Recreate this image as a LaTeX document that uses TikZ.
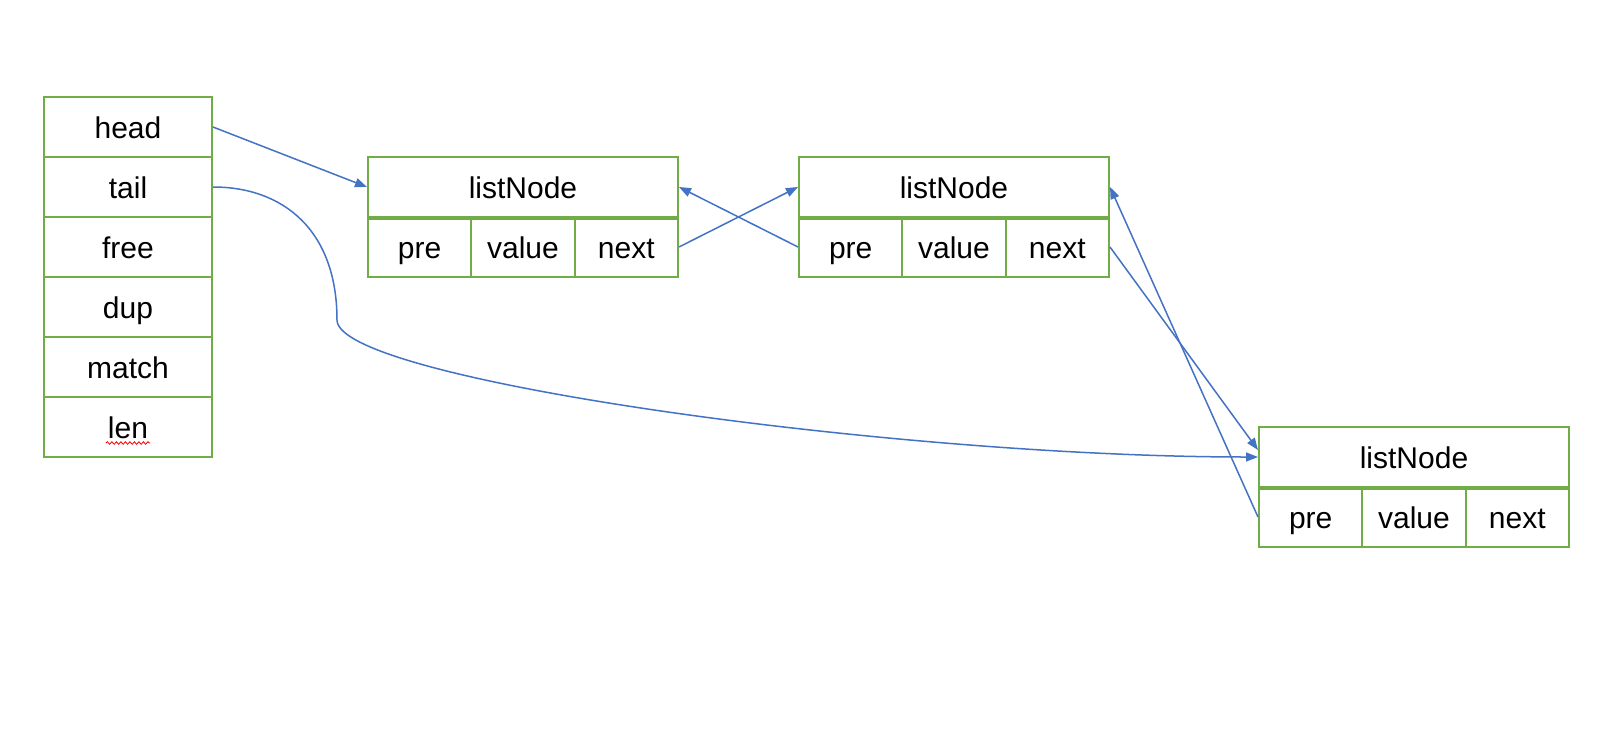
\documentclass[tikz,border=0pt]{standalone}
\usepackage{fontspec}
\setmainfont{Liberation Sans}
\usetikzlibrary{arrows.meta,decorations.pathmorphing}
\definecolor{ogreen}{HTML}{70AD47}
\definecolor{oblue}{HTML}{4472C4}
\begin{document}
\begin{tikzpicture}[x=1pt,y=-1pt,
  cell/.style={draw=ogreen, line width=2pt, rectangle, inner sep=0pt, minimum height=60pt,
    text height=25pt, text depth=2pt, font=\fontsize{30}{36}\selectfont},
  fieldcell/.style={cell, minimum width=168pt},
  titlecell/.style={cell, minimum width=310pt},
  smallcell/.style={cell, minimum width=103.33pt},
  divider/.style={draw=ogreen, line width=3.5pt},
  link/.style={draw=oblue, line width=1.5pt, -{Triangle[length=12pt,width=9pt]}}
]
\useasboundingbox (0,0) rectangle (1606,750);
\fill[white] (0,0) rectangle (1606,750);
% left struct
\node[fieldcell] (head)  at (128,127) {head};
\node[fieldcell] (tail)  at (128,187) {tail};
\node[fieldcell] (free)  at (128,247) {free};
\node[fieldcell] (dup)   at (128,307) {dup};
\node[fieldcell] (match) at (128,367) {match};
\node[fieldcell] (len)   at (128,427) {len};
\draw[red, line width=0.8pt, decorate, decoration={snake, amplitude=1.3pt, segment length=4.5pt}]
  ([xshift=-22pt,yshift=-16pt]len.center) -- ([xshift=22pt,yshift=-16pt]len.center);
% listNode 1
\node[titlecell] (n1t) at (523,187) {listNode};
\node[smallcell] (n1p) at (419.67,247) {pre};
\node[smallcell] (n1v) at (523,247) {value};
\node[smallcell] (n1n) at (626.33,247) {next};
\draw[divider] (n1t.south west) -- (n1t.south east);
% listNode 2
\node[titlecell] (n2t) at (954,187) {listNode};
\node[smallcell] (n2p) at (850.67,247) {pre};
\node[smallcell] (n2v) at (954,247) {value};
\node[smallcell] (n2n) at (1057.33,247) {next};
\draw[divider] (n2t.south west) -- (n2t.south east);
% listNode 3
\node[titlecell] (n3t) at (1414,457) {listNode};
\node[smallcell] (n3p) at (1310.67,517) {pre};
\node[smallcell] (n3v) at (1414,517) {value};
\node[smallcell] (n3n) at (1517.33,517) {next};
\draw[divider] (n3t.south west) -- (n3t.south east);
% connectors
\coordinate (bend) at (337,320);
\draw[link] (head.east) -- (n1t.west);
\draw[link] (n1n.east) -- (n2t.west);
\draw[link] (n2p.west) -- (n1t.east);
\draw[link] (n2n.east) -- ([yshift=7pt]n3t.west);
\draw[link] (n3p.west) -- (n2t.east);
\draw[link] (tail.east) .. controls +(70,0) and +(0,-90) .. (bend)
  .. controls +(0,60) and +(-360,0) .. (n3t.west);
\end{tikzpicture}
\end{document}
